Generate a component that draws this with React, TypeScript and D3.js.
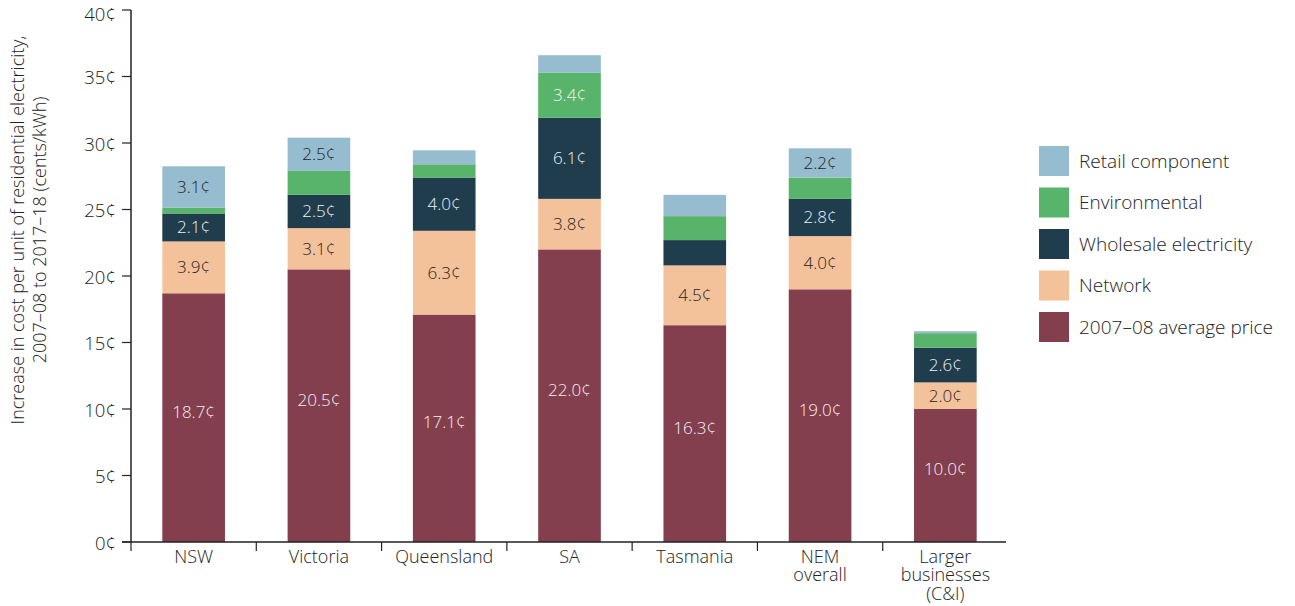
import * as d3 from 'd3';

// categories (x axis), multi-line labels
const categories = ['NSW', 'Victoria', 'Queensland', 'SA', 'Tasmania', 'NEM overall', 'Larger businesses (C&I)'];
const categoryLines = [['NSW'], ['Victoria'], ['Queensland'], ['SA'], ['Tasmania'], ['NEM', 'overall'], ['Larger', 'businesses', '(C&I)']];

// series values in cents/kWh, stacked bottom to top
const basePrice = [18.7, 20.5, 17.1, 22.0, 16.3, 19.0, 10.0];
const network = [3.9, 3.1, 6.3, 3.8, 4.5, 4.0, 2.0];
const wholesale = [2.1, 2.5, 4.0, 6.1, 1.9, 2.8, 2.6];
const environmental = [0.45, 1.8, 1.0, 3.4, 1.8, 1.6, 1.1];
const retail = [3.1, 2.5, 1.05, 1.3, 1.6, 2.2, 0.15];

const seriesNames = ['2007–08 average price', 'Network', 'Wholesale electricity', 'Environmental', 'Retail component'];
const seriesColors = ['#843F4F', '#F4C29A', '#203D4E', '#57B46A', '#96BCD0'];
const labelColors = ['#f7f0f2', '#1e1e1e', '#eef3f6', '#f5faf5', '#1e1e1e'];

const yTicks = [0, 5, 10, 15, 20, 25, 30, 35, 40];

const W = 1295;
const H = 606;
const FONT = '"Open Sans", Lato, sans-serif';
const TEXT = '#222';

export default function App() {
  const series = [basePrice, network, wholesale, environmental, retail];
  const rows = categories.map((c, i) => {
    const r: Record<string, number | string> = { cat: c };
    seriesNames.forEach((s, k) => { r[s] = series[k][i]; });
    return r;
  });
  const stacked = d3.stack<any>().keys(seriesNames)(rows);

  const x = d3.scaleBand<string>()
    .domain(categories)
    .range([131, 1008])
    .paddingInner(0.5)
    .paddingOuter(0.25);
  const y = d3.scaleLinear().domain([0, 40]).range([542, 10]);
  const step = x.step();
  const x0 = 131;
  const cx = (i: number) => (x(categories[i]) ?? 0) + x.bandwidth() / 2;

  return (
    <svg width={W} height={H} style={{ position: 'absolute', left: 0, top: 0, background: '#fff' }}
      fontFamily={FONT} fontWeight={300}>
      {/* bars */}
      {stacked.map((layer, k) => (
        <g key={layer.key} fill={seriesColors[k]}>
          {layer.map((d, i) => (
            <rect key={i} x={x(categories[i])} width={x.bandwidth()}
              y={y(d[1])} height={y(d[0]) - y(d[1])} />
          ))}
        </g>
      ))}
      {/* value labels */}
      {stacked.map((layer, k) => (
        <g key={'l' + layer.key} fill={labelColors[k]} fontSize={17} textAnchor="middle">
          {layer.map((d, i) => {
            const v = series[k][i];
            if (v < 2) return null;
            const mid = (y(d[0]) + y(d[1])) / 2;
            const off = k === 0 ? -6 : 0;
            return (
              <text key={i} x={cx(i)} y={mid + off} dy="0.35em">
                {v.toFixed(1)}¢
              </text>
            );
          })}
        </g>
      ))}
      {/* y axis */}
      <line x1={x0} x2={x0} y1={y(40)} y2={y(0)} stroke="#222" strokeWidth={1.5} />
      {yTicks.map(t => (
        <g key={t}>
          <line x1={122} x2={x0} y1={y(t)} y2={y(t)} stroke="#222" strokeWidth={1.2} />
          <text x={116} y={Math.max(y(t) + 7.5, 20.5)} textAnchor="end" fontSize={18.5} fill={TEXT}>{t}¢</text>
        </g>
      ))}
      {/* x axis */}
      <line x1={x0 - 9} x2={1006} y1={y(0)} y2={y(0)} stroke="#222" strokeWidth={1.5} />
      {d3.range(categories.length).map(i => (
        <line key={i} x1={x0 + i * step} x2={x0 + i * step} y1={y(0)} y2={y(0) + 9} stroke="#222" strokeWidth={1.2} />
      ))}
      {categoryLines.map((lines, i) => (
        <g key={i} textAnchor="middle" fontSize={18} fill={TEXT}>
          {lines.map((l, j) => (
            <text key={j} x={cx(i)} y={563 + j * 18.3}>{l}</text>
          ))}
        </g>
      ))}
      {/* y axis title */}
      <text transform="translate(24,230) rotate(-90)" textAnchor="middle" fontSize={18} fill={TEXT}>
        Increase in cost per unit of residential electricity,
      </text>
      <text transform="translate(46,230) rotate(-90)" textAnchor="middle" fontSize={18} fill={TEXT}>
        2007–08 to 2017–18 (cents/kWh)
      </text>
      {/* legend, top item is retail */}
      {seriesNames.slice().reverse().map((s, j) => {
        const k = seriesNames.length - 1 - j;
        const ty = 146 + j * 41.5;
        return (
          <g key={s}>
            <rect x={1039} y={ty} width={30} height={30} fill={seriesColors[k]} />
            <text x={1079} y={ty + 15} dy="0.35em" fontSize={19} fill={TEXT}>{s}</text>
          </g>
        );
      })}
    </svg>
  );
}
